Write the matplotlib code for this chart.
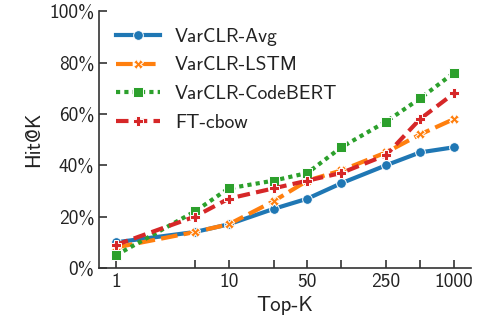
import numpy as np
import matplotlib.pyplot as plt
from matplotlib.ticker import FixedLocator, FixedFormatter, PercentFormatter

plt.rcParams['font.family'] = ['cmss10', 'DejaVu Sans']
plt.rcParams['axes.formatter.use_mathtext'] = True

# 数据
top_k = [1, 5, 10, 25, 50, 100, 250, 500, 1000]
tick_labels = ['1', '', '10', '', '50', '', '250', '', '1000']
varclr_avg = [10, 14, 17, 23, 27, 33, 40, 45, 47]
varclr_lstm = [8, 14, 17, 26, 34, 38, 45, 52, 58]
varclr_codebert = [5, 22, 31, 34, 37, 47, 57, 66, 76]
ft_cbow = [9, 20, 27, 31, 34, 37, 44, 58, 68]

series = [
    ('VarCLR-Avg', varclr_avg, '#1f77b4', 'o', (None, None)),
    ('VarCLR-LSTM', varclr_lstm, '#ff7f0e', 'X', (4, 1.5)),
    ('VarCLR-CodeBERT', varclr_codebert, '#2ca02c', 's', (1, 1)),
    ('FT-cbow', ft_cbow, '#d62728', 'P', (3, 1.5)),
]

fig, ax = plt.subplots(figsize=(4.79, 3.28), dpi=100)
fig.subplots_adjust(left=0.207, right=0.983, top=0.966, bottom=0.183)

for name, vals, color, marker, dash in series:
    line, = ax.plot(top_k, vals, color=color, marker=marker, markersize=7,
                    markeredgecolor='white', markeredgewidth=0.7,
                    linewidth=3, label=name)
    if dash[0] is not None:
        line.set_dashes(dash)

ax.set_xscale('log')
ax.set_xlim(0.707, 1412)
ax.set_ylim(0, 100)
ax.xaxis.set_major_locator(FixedLocator(top_k))
ax.xaxis.set_major_formatter(FixedFormatter(tick_labels))
ax.xaxis.set_minor_locator(FixedLocator([]))
ax.set_yticks([0, 20, 40, 60, 80, 100])
ax.yaxis.set_major_formatter(PercentFormatter(decimals=0))

for s in ['top', 'right']:
    ax.spines[s].set_visible(False)
for s in ['left', 'bottom']:
    ax.spines[s].set_color('#333333')
    ax.spines[s].set_linewidth(1.2)
ax.tick_params(direction='in', length=6, width=1.2, colors='#333333', labelsize=14,
               labelcolor='#222222')

ax.set_xlabel('Top-K', fontsize=15, color='#222222')
ax.set_ylabel('Hit@K', fontsize=15, color='#222222')

leg = ax.legend(loc='upper left', frameon=False, fontsize=14,
                handlelength=2.3, handletextpad=0.75, borderaxespad=0.45,
                labelspacing=0.55)
for t in leg.get_texts():
    t.set_color('#222222')

plt.savefig('out.png', dpi=100)
